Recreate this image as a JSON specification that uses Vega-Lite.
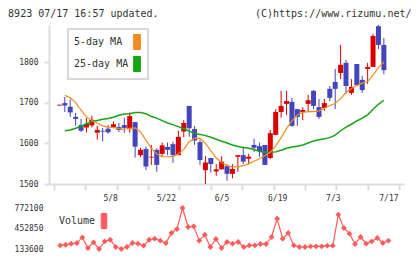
{
  "$schema": "https://vega.github.io/schema/vega-lite/v6.json",
  "padding": {"left": 8, "top": 8, "right": 0, "bottom": 0},
  "background": "#ffffff",
  "spacing": 3,
  "title": {
    "text": "8923 07/17 16:57 updated.\u00a0\u00a0\u00a0\u00a0\u00a0\u00a0\u00a0\u00a0\u00a0\u00a0\u00a0\u00a0\u00a0\u00a0\u00a0\u00a0(C)https://www.rizumu.net/",
    "anchor": "start",
    "frame": "bounds",
    "dx": -6,
    "font": "DejaVu Sans Mono",
    "fontSize": 10,
    "fontWeight": "normal",
    "color": "#333333",
    "offset": 6
  },
  "config": {
    "view": {"stroke": null},
    "axis": {
      "grid": false,
      "title": null,
      "labelFont": "DejaVu Sans Mono",
      "labelFontSize": 8,
      "labelColor": "#333333",
      "domainColor": "#dddddd",
      "domainWidth": 2,
      "tickColor": "#dddddd",
      "tickWidth": 2
    }
  },
  "data": {
    "values": [
      {"i":0,"o":1693,"h":1695,"l":1693,"c":1695,"vol":null,"ma5":null,"ma25":null},
      {"i":1,"o":1699,"h":1714,"l":1677,"c":1693,"vol":189000,"ma5":1718,"ma25":1631},
      {"i":2,"o":1690,"h":1708,"l":1665,"c":1676,"vol":200000,"ma5":1712,"ma25":1633},
      {"i":3,"o":1665,"h":1675,"l":1643,"c":1660,"vol":216000,"ma5":1700,"ma25":1637},
      {"i":4,"o":1645,"h":1660,"l":1628,"c":1631,"vol":227000,"ma5":1682,"ma25":1642},
      {"i":5,"o":1639,"h":1662,"l":1627,"c":1648,"vol":314000,"ma5":1665,"ma25":1648},
      {"i":6,"o":1644,"h":1668,"l":1639,"c":1658,"vol":149000,"ma5":1656,"ma25":1653},
      {"i":7,"o":1626,"h":1643,"l":1609,"c":1633,"vol":237000,"ma5":1650,"ma25":1656},
      {"i":8,"o":1631,"h":1638,"l":1605,"c":1629,"vol":133600,"ma5":1643,"ma25":1659},
      {"i":9,"o":1636,"h":1645,"l":1624,"c":1627,"vol":252000,"ma5":1640,"ma25":1661},
      {"i":10,"o":1640,"h":1654,"l":1637,"c":1647,"vol":278000,"ma5":1639,"ma25":1664},
      {"i":11,"o":1640,"h":1650,"l":1628,"c":1633,"vol":165000,"ma5":1636,"ma25":1669},
      {"i":12,"o":1645,"h":1663,"l":1626,"c":1638,"vol":134000,"ma5":1634,"ma25":1672},
      {"i":13,"o":1635,"h":1676,"l":1626,"c":1667,"vol":165000,"ma5":1637,"ma25":1673},
      {"i":14,"o":1652,"h":1653,"l":1565,"c":1592,"vol":227000,"ma5":1638,"ma25":1676},
      {"i":15,"o":1571,"h":1589,"l":1566,"c":1584,"vol":216000,"ma5":1628,"ma25":1676},
      {"i":16,"o":1586,"h":1592,"l":1534,"c":1543,"vol":185000,"ma5":1608,"ma25":1673},
      {"i":17,"o":1565,"h":1596,"l":1547,"c":1567,"vol":278000,"ma5":1588,"ma25":1666},
      {"i":18,"o":1584,"h":1588,"l":1530,"c":1547,"vol":294000,"ma5":1574,"ma25":1662},
      {"i":19,"o":1574,"h":1602,"l":1567,"c":1595,"vol":263000,"ma5":1567,"ma25":1656},
      {"i":20,"o":1591,"h":1602,"l":1571,"c":1584,"vol":227000,"ma5":1567,"ma25":1650},
      {"i":21,"o":1598,"h":1604,"l":1552,"c":1571,"vol":383000,"ma5":1568,"ma25":1646},
      {"i":22,"o":1571,"h":1631,"l":1571,"c":1616,"vol":445000,"ma5":1574,"ma25":1641},
      {"i":23,"o":1629,"h":1657,"l":1615,"c":1650,"vol":772100,"ma5":1585,"ma25":1636},
      {"i":24,"o":1692,"h":1692,"l":1616,"c":1637,"vol":476000,"ma5":1604,"ma25":1630},
      {"i":25,"o":1635,"h":1643,"l":1596,"c":1607,"vol":486000,"ma5":1613,"ma25":1624},
      {"i":26,"o":1603,"h":1608,"l":1547,"c":1559,"vol":263000,"ma5":1612,"ma25":1622},
      {"i":27,"o":1534,"h":1569,"l":1500,"c":1553,"vol":356000,"ma5":1600,"ma25":1619},
      {"i":28,"o":1564,"h":1564,"l":1528,"c":1549,"vol":165000,"ma5":1582,"ma25":1615},
      {"i":29,"o":1531,"h":1549,"l":1520,"c":1536,"vol":289000,"ma5":1564,"ma25":1610},
      {"i":30,"o":1536,"h":1568,"l":1536,"c":1555,"vol":149000,"ma5":1553,"ma25":1605},
      {"i":31,"o":1544,"h":1549,"l":1508,"c":1525,"vol":243000,"ma5":1545,"ma25":1601},
      {"i":32,"o":1525,"h":1549,"l":1514,"c":1537,"vol":216000,"ma5":1542,"ma25":1596},
      {"i":33,"o":1567,"h":1571,"l":1530,"c":1571,"vol":243000,"ma5":1542,"ma25":1592},
      {"i":34,"o":1571,"h":1588,"l":1549,"c":1555,"vol":165000,"ma5":1545,"ma25":1590},
      {"i":35,"o":1562,"h":1574,"l":1548,"c":1567,"vol":190000,"ma5":1550,"ma25":1588},
      {"i":36,"o":1596,"h":1611,"l":1579,"c":1589,"vol":190000,"ma5":1556,"ma25":1585},
      {"i":37,"o":1593,"h":1602,"l":1567,"c":1581,"vol":211000,"ma5":1562,"ma25":1580},
      {"i":38,"o":1596,"h":1596,"l":1547,"c":1547,"vol":211000,"ma5":1570,"ma25":1578},
      {"i":39,"o":1564,"h":1633,"l":1561,"c":1625,"vol":320000,"ma5":1578,"ma25":1578},
      {"i":40,"o":1621,"h":1684,"l":1620,"c":1677,"vol":605000,"ma5":1594,"ma25":1579},
      {"i":41,"o":1677,"h":1729,"l":1663,"c":1692,"vol":294000,"ma5":1614,"ma25":1583},
      {"i":42,"o":1697,"h":1729,"l":1670,"c":1704,"vol":383000,"ma5":1636,"ma25":1588},
      {"i":43,"o":1702,"h":1712,"l":1641,"c":1643,"vol":190000,"ma5":1655,"ma25":1591},
      {"i":44,"o":1684,"h":1684,"l":1643,"c":1665,"vol":165000,"ma5":1670,"ma25":1593},
      {"i":45,"o":1677,"h":1689,"l":1657,"c":1682,"vol":165000,"ma5":1676,"ma25":1596},
      {"i":46,"o":1697,"h":1719,"l":1677,"c":1706,"vol":174000,"ma5":1678,"ma25":1601},
      {"i":47,"o":1729,"h":1731,"l":1684,"c":1692,"vol":174000,"ma5":1678,"ma25":1606},
      {"i":48,"o":1689,"h":1709,"l":1660,"c":1665,"vol":174000,"ma5":1680,"ma25":1609},
      {"i":49,"o":1687,"h":1709,"l":1680,"c":1699,"vol":185000,"ma5":1686,"ma25":1611},
      {"i":50,"o":1734,"h":1741,"l":1704,"c":1712,"vol":185000,"ma5":1693,"ma25":1614},
      {"i":51,"o":1751,"h":1783,"l":1684,"c":1734,"vol":668000,"ma5":1698,"ma25":1620},
      {"i":52,"o":1773,"h":1842,"l":1758,"c":1793,"vol":461000,"ma5":1710,"ma25":1631},
      {"i":53,"o":1798,"h":1805,"l":1721,"c":1741,"vol":372000,"ma5":1725,"ma25":1640},
      {"i":54,"o":1724,"h":1758,"l":1719,"c":1739,"vol":211000,"ma5":1735,"ma25":1647},
      {"i":55,"o":1795,"h":1795,"l":1743,"c":1743,"vol":320000,"ma5":1742,"ma25":1655},
      {"i":56,"o":1756,"h":1766,"l":1724,"c":1731,"vol":216000,"ma5":1748,"ma25":1662},
      {"i":57,"o":1783,"h":1798,"l":1746,"c":1788,"vol":252000,"ma5":1752,"ma25":1670},
      {"i":58,"o":1788,"h":1869,"l":1788,"c":1864,"vol":305000,"ma5":1768,"ma25":1684},
      {"i":59,"o":1888,"h":1891,"l":1832,"c":1842,"vol":227000,"ma5":1786,"ma25":1696},
      {"i":60,"o":1842,"h":1859,"l":1770,"c":1780,"vol":263000,"ma5":1800,"ma25":1706}
    ]
  },
  "resolve": {"scale": {"color": "independent"}, "legend": {"color": "independent"}},
  "vconcat": [
    {
      "width": 355,
      "height": 159,
      "encoding": {
        "x": {
          "field": "i",
          "type": "quantitative",
          "scale": {"domain": [-1, 62.8], "nice": false, "zero": false},
          "axis": {
            "values": [-1, 4.8, 10.6, 16.4, 22.2, 28, 33.8, 39.6, 45.4, 51.2, 57, 62.8],
            "labels": false,
            "tickSize": 6
          }
        }
      },
      "layer": [
        {
          "mark": {"type": "rule", "strokeWidth": 1},
          "encoding": {
            "y": {
              "field": "l",
              "type": "quantitative",
              "scale": {"domain": [1500, 1891], "nice": false, "zero": false},
              "axis": {"values": [1500, 1600, 1700, 1800], "format": "d", "tickSize": 5, "labelPadding": 6}
            },
            "y2": {"field": "h"},
            "color": {"condition": {"test": "datum.c >= datum.o", "value": "#d80000"}, "value": "#4444bb"}
          }
        },
        {
          "mark": {"type": "bar", "size": 5},
          "encoding": {
            "y": {"field": "o", "type": "quantitative"},
            "y2": {"field": "c"},
            "color": {"condition": {"test": "datum.c >= datum.o", "value": "#d80000"}, "value": "#4444bb"}
          }
        },
        {
          "mark": {"type": "line", "strokeWidth": 1.5},
          "encoding": {
            "y": {"field": "ma25", "type": "quantitative"},
            "color": {
              "datum": "25-day MA",
              "scale": {"domain": ["5-day MA", "25-day MA"], "range": ["#f28c1e", "#14a514"]},
              "legend": {
                "title": null,
                "orient": "none",
                "legendX": 19,
                "legendY": 4,
                "fillColor": "#ffffff",
                "strokeColor": "#d8d8d8",
                "padding": 5,
                "symbolType": "M-0.45,-1H0.45V1H-0.45Z",
                "symbolSize": 225,
                "symbolStrokeWidth": 1,
                "symbolOffset": 56,
                "labelAlign": "left",
                "labelOffset": -71,
                "labelExpr": "datum.label === '5-day MA' ? '\u00a05-day MA' : datum.label",
                "labelFont": "DejaVu Sans Mono",
                "labelFontSize": 10,
                "labelColor": "#333333",
                "rowPadding": 2,
                "encode": {
                  "symbols": {"update": {
                    "fill": {"signal": "datum.value === '5-day MA' ? '#f28c1e' : '#14a514'"},
                    "stroke": {"value": "#333333"},
                    "opacity": {"value": 1}
                  }},
                  "legend": {"update": {"strokeWidth": {"value": 2}}}
                }
              }
            }
          }
        },
        {
          "mark": {"type": "line", "strokeWidth": 1.2},
          "encoding": {
            "y": {"field": "ma5", "type": "quantitative"},
            "color": {"datum": "5-day MA"}
          }
        }
      ]
    },
    {
      "width": 355,
      "height": 41,
      "encoding": {
        "x": {
          "field": "i",
          "type": "quantitative",
          "scale": {"domain": [-1, 62.8], "nice": false, "zero": false},
          "axis": {
            "orient": "top",
            "values": [10, 20, 30, 40, 50, 60],
            "labelExpr": "['5/8','5/22','6/5','6/19','7/3','7/17'][datum.value / 10 - 1]",
            "ticks": false,
            "domain": false,
            "labelPadding": 6
          }
        },
        "y": {
          "field": "vol",
          "type": "quantitative",
          "scale": {"domain": [133600, 772100], "nice": false, "zero": false},
          "axis": {"values": [133600, 452850, 772100], "format": "d", "ticks": false, "domain": false, "labelPadding": 6}
        },
        "color": {
          "datum": "Volume",
          "scale": {"domain": ["Volume"], "range": ["#ff5c5c"]},
          "legend": {
            "title": null,
            "orient": "none",
            "legendX": 9,
            "legendY": 5,
            "padding": 0,
            "symbolType": "M-0.37,-1H0.37V1H-0.37Z",
            "symbolSize": 225,
            "symbolStrokeWidth": 1,
            "symbolOffset": 38,
            "labelAlign": "left",
            "labelOffset": -53,
            "labelFont": "DejaVu Sans Mono",
            "labelFontSize": 10,
            "labelColor": "#333333",
            "encode": {
              "symbols": {"update": {
                "fill": {"value": "#ff5c5c"},
                "stroke": {"value": "#333333"},
                "opacity": {"value": 1}
              }}
            }
          }
        }
      },
      "layer": [
        {"mark": {"type": "line", "strokeWidth": 1.2}},
        {"mark": {"type": "point", "shape": "diamond", "filled": true, "size": 34, "opacity": 1}}
      ]
    }
  ]
}
